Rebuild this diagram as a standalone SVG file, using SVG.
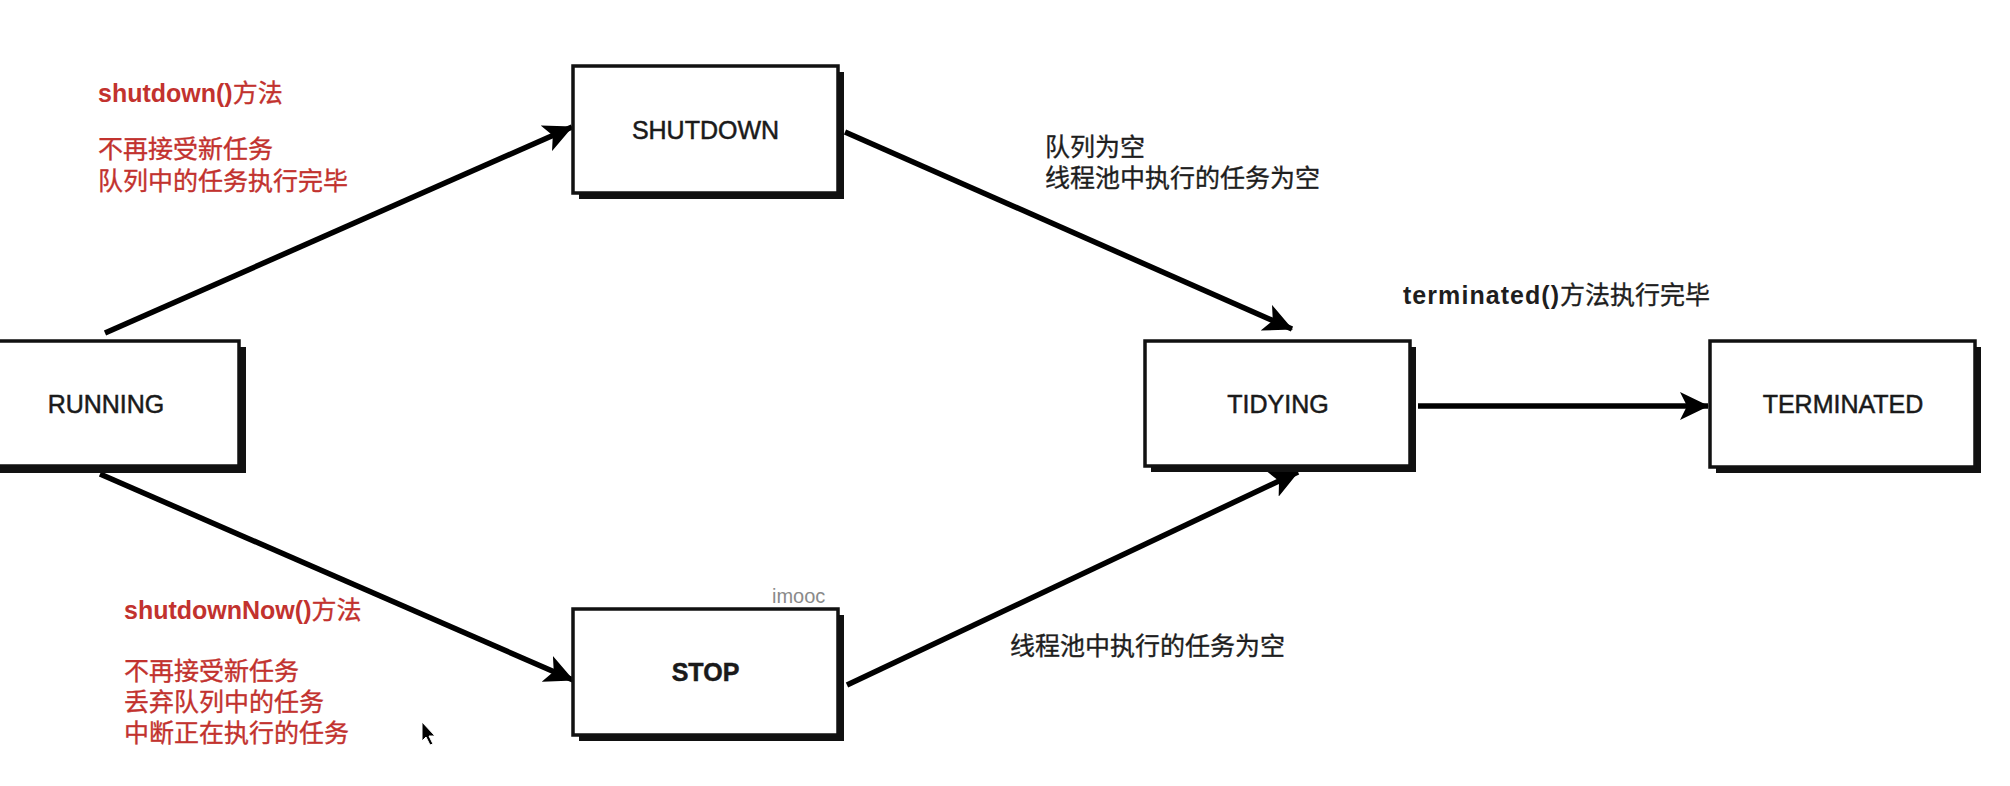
<svg xmlns="http://www.w3.org/2000/svg" width="2010" height="786" viewBox="0 0 2010 786">
<style>
.box{fill:#fff;stroke:#111;stroke-width:3.5}
.shadow{fill:#111}
.lbl{font-family:"Liberation Sans","Noto Sans CJK SC",sans-serif;font-size:25px;fill:#1a1a1a;stroke:#1a1a1a;stroke-width:0.5;text-anchor:middle}
.red{font-family:"Liberation Sans","Noto Sans CJK SC",sans-serif;font-size:25px;fill:#c2322e;stroke:#c2322e;stroke-width:0.35}
.blk{font-family:"Liberation Sans","Noto Sans CJK SC",sans-serif;font-size:25px;fill:#1e1e1e;stroke:#1e1e1e;stroke-width:0.35}
.lat{font-weight:bold;stroke-width:0}
.edge{stroke:#000;stroke-width:5.5;fill:none;marker-end:url(#ah)}
</style>
<defs>
<marker id="ah" markerUnits="userSpaceOnUse" markerWidth="30" markerHeight="28" viewBox="0 0 30 28" refX="28" refY="14" orient="auto">
<path d="M0,0 L29,14 L0,28 L7,14 Z" fill="#000"/>
</marker>
</defs>
<rect width="2010" height="786" fill="#fff"/>
<g id="connectors">
<line class="edge" x1="105" y1="333" x2="572" y2="127"/>
<line class="edge" x1="100" y1="474" x2="573" y2="680"/>
<line class="edge" x1="845" y1="132" x2="1292" y2="329"/>
<line class="edge" x1="847" y1="685" x2="1298" y2="472"/>
<line class="edge" x1="1418" y1="406" x2="1708" y2="406"/>
</g>
<g id="running">
<rect class="shadow" x="-22" y="347" width="268" height="126"/>
<rect class="box" x="-28" y="341" width="267" height="125"/>
<text class="lbl" x="106" y="413">RUNNING</text>
</g>
<g id="shutdown">
<rect class="shadow" x="579" y="72" width="265" height="127"/>
<rect class="box" x="573" y="66" width="265" height="127"/>
<text class="lbl" x="705.5" y="139">SHUTDOWN</text>
</g>
<g id="stop">
<rect class="shadow" x="579" y="615" width="265" height="126"/>
<rect class="box" x="573" y="609" width="265" height="126"/>
<text class="lbl" x="705.5" y="681" font-weight="bold">STOP</text>
</g>
<g id="tidying">
<rect class="shadow" x="1151" y="347" width="265" height="125"/>
<rect class="box" x="1145" y="341" width="265" height="125"/>
<text class="lbl" x="1278" y="413">TIDYING</text>
</g>
<g id="terminated">
<rect class="shadow" x="1716" y="347" width="265" height="126"/>
<rect class="box" x="1710" y="341" width="265" height="126"/>
<text class="lbl" x="1843" y="413">TERMINATED</text>
</g>
<g id="labels">
<text class="red" x="98" y="102"><tspan class="lat">shutdown()</tspan>方法</text>
<text class="red" x="98" y="158">不再接受新任务</text>
<text class="red" x="98" y="190">队列中的任务执行完毕</text>
<text class="red" x="124" y="619"><tspan class="lat">shutdownNow()</tspan>方法</text>
<text class="red" x="124" y="680">不再接受新任务</text>
<text class="red" x="124" y="711">丢弃队列中的任务</text>
<text class="red" x="124" y="742">中断正在执行的任务</text>
<text class="blk" x="1045" y="156">队列为空</text>
<text class="blk" x="1045" y="187">线程池中执行的任务为空</text>
<text class="blk" x="1010" y="655">线程池中执行的任务为空</text>
<text class="blk" x="1403" y="304"><tspan class="lat" textLength="156">terminated()</tspan>方法执行完毕</text>
<text x="772" y="603" font-family="Liberation Sans, sans-serif" font-size="20" fill="#8a8a8a">imooc</text>
</g>
<path d="M422,722 L422,741 L426,737 L430,745 L433,744 L429,736 L435,736 Z" fill="#000" stroke="#fff" stroke-width="1"/>
</svg>
